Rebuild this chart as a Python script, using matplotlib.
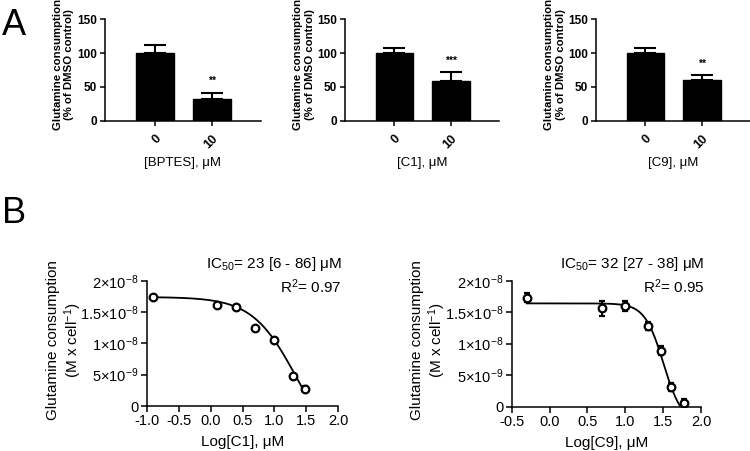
import numpy as np
import matplotlib
matplotlib.use("Agg")
import matplotlib.pyplot as plt
from matplotlib.ticker import FixedLocator, FixedFormatter

plt.rcParams['font.family'] = ['Liberation Sans', 'DejaVu Sans']
plt.rcParams['mathtext.fontset'] = 'custom'
plt.rcParams['mathtext.rm'] = 'Liberation Sans'
plt.rcParams['mathtext.it'] = 'Liberation Sans:italic'
plt.rcParams['mathtext.bf'] = 'Liberation Sans:bold'
plt.rcParams['axes.unicode_minus'] = False

# ---------------- data: panel A ----------------
bar_categories = ['0', '10']
bptes_means = [100, 32]
bptes_err = [12, 9.5]
c1_means = [100, 58]
c1_err = [7, 14]
c9_means = [100, 60]
c9_err = [7, 7]
bptes_stars = ['', '**']
c1_stars = ['', '***']
c9_stars = ['', '**']
bar_xlabels = ['[BPTES], μM', '[C1], μM', '[C9], μM']

# ---------------- data: panel B ----------------
c1_logdose = [-0.903, 0.097, 0.398, 0.699, 1.0, 1.301, 1.477]
c1_cons = [1.745e-8, 1.612e-8, 1.575e-8, 1.24e-8, 1.049e-8, 4.84e-9, 2.75e-9]
c1_cons_err = [1e-10, 1e-10, 1e-10, 1e-10, 1e-10, 1e-10, 4e-10]
c1_fit = dict(top=1.74e-8, bottom=-8.8e-9, logic50=1.362, hill=1.236)

c9_logdose = [-0.301, 0.699, 1.0, 1.301, 1.477, 1.602, 1.778]
c9_cons = [1.73e-8, 1.562e-8, 1.60e-8, 1.286e-8, 8.9e-9, 3.17e-9, 6.3e-10]
c9_cons_err = [7.4e-10, 1.2e-9, 8e-10, 6.6e-10, 6.6e-10, 6.6e-10, 6e-10]
c9_fit = dict(top=1.64e-8, bottom=-2.7e-9, logic50=1.505, hill=3.5)

c1_texts = ['IC$_{50}$= 23 [6 - 86] μM', 'R$^{2}$= 0.97']
c9_texts = ['IC$_{50}$= 32 [27 - 38] μM', 'R$^{2}$= 0.95']

ytick_vals = [0, 5e-9, 1e-8, 1.5e-8, 2e-8]
ytick_labels = ['0', '5×10$^{-9}$', '1×10$^{-8}$', '1.5×10$^{-8}$', '2×10$^{-8}$']


def four_pl(x, top, bottom, logic50, hill):
    return bottom + (top - bottom) / (1 + 10 ** (hill * (x - logic50)))


W, H = 750, 451
fig = plt.figure(figsize=(W / 100, H / 100), dpi=100)


def fig_axes(left_px, top_px, right_px, bottom_px):
    return fig.add_axes([left_px / W, 1 - bottom_px / H,
                         (right_px - left_px) / W, (bottom_px - top_px) / H])


def bar_panel(ax, means, errs, stars, xlabel):
    x = np.arange(len(bar_categories))
    ax.bar(x, means, width=0.66, color='black', edgecolor='black', zorder=2)
    ax.errorbar(x, means, yerr=[np.zeros(len(errs)), errs], fmt='none',
                ecolor='black', elinewidth=1.5, capsize=8, capthick=1.5, zorder=1)
    for xi, m, e, s in zip(x, means, errs, stars):
        if s:
            ax.text(xi, m + e + 17, s, ha='center', va='center',
                    fontsize=7.5, fontweight='bold')
    ax.set_xlim(-0.87, 1.85)
    ax.set_ylim(0, 150)
    ax.set_yticks([0, 50, 100, 150])
    ax.set_xticks(x)
    ax.set_xticklabels(bar_categories, rotation=45, ha='right',
                       rotation_mode='anchor', fontsize=9, fontweight='bold')
    for lab in ax.get_yticklabels():
        lab.set_fontsize(8.5)
        lab.set_fontweight('bold')
    for sp in ['top', 'right']:
        ax.spines[sp].set_visible(False)
    for sp in ['left', 'bottom']:
        ax.spines[sp].set_linewidth(1.1)
    ax.tick_params(direction='out', length=3.5, width=1.1, pad=2)
    ax.tick_params(axis='x', pad=5)
    ax.text(-0.265, 0.55, 'Glutamine consumption\n(% of DMSO control)',
            transform=ax.transAxes, rotation=90, ha='center', va='center',
            fontsize=8.2, fontweight='bold', linespacing=1.2)
    ax.text(0.5, -0.42, xlabel, transform=ax.transAxes, ha='center',
            va='center', fontsize=9.5)


axA1 = fig_axes(105, 19.3, 261, 120.7)
axA2 = fig_axes(345, 19.3, 499, 120.7)
axA3 = fig_axes(596, 19.3, 750, 120.7)
bar_panel(axA1, bptes_means, bptes_err, bptes_stars, bar_xlabels[0])
bar_panel(axA2, c1_means, c1_err, c1_stars, bar_xlabels[1])
bar_panel(axA3, c9_means, c9_err, c9_stars, bar_xlabels[2])


def curve_panel(ax, logdose, cons, err, fit, texts, xmin, xlabel, label_x):
    ax.errorbar(logdose, cons, yerr=err, fmt='o', mfc='white', mec='black',
                mew=1.6, ms=5.5, ecolor='black', elinewidth=1.4, capsize=2.5,
                capthick=1.4, zorder=3)
    xs = np.linspace(min(logdose), max(logdose), 300)
    ax.plot(xs, four_pl(xs, **fit), color='black', lw=1.3, zorder=2)
    ax.set_xlim(xmin, 2.0)
    ax.set_ylim(0, 2e-8)
    xt = np.arange(xmin, 2.0001, 0.5)
    ax.xaxis.set_major_locator(FixedLocator(xt))
    ax.xaxis.set_major_formatter(FixedFormatter(['%.1f' % v for v in xt]))
    ax.yaxis.set_major_locator(FixedLocator(ytick_vals))
    ax.yaxis.set_major_formatter(FixedFormatter(ytick_labels))
    for sp in ['top', 'right']:
        ax.spines[sp].set_visible(False)
    for sp in ['left', 'bottom']:
        ax.spines[sp].set_linewidth(1.1)
    ax.tick_params(direction='out', length=4, width=1.1, labelsize=10.5, pad=2)
    ax.text(label_x, 0.527, 'Glutamine consumption\n(M x cell$^{-1}$)',
            transform=ax.transAxes, rotation=90, ha='center', va='center',
            fontsize=11, linespacing=1.2)
    ax.text(0.5, -0.285, xlabel, transform=ax.transAxes, ha='center',
            va='center', fontsize=11)
    ax.text(1.02, 1.13, texts[0], transform=ax.transAxes, ha='right',
            va='center', fontsize=11)
    ax.text(1.02, 0.955, texts[1], transform=ax.transAxes, ha='right',
            va='center', fontsize=11)


axB1 = fig_axes(147, 280.7, 338, 406)
axB2 = fig_axes(511.7, 280.7, 701, 406.7)
curve_panel(axB1, c1_logdose, c1_cons, c1_cons_err, c1_fit, c1_texts, -1.0,
            'Log[C1], μM', -0.43)
curve_panel(axB2, c9_logdose, c9_cons, c9_cons_err, c9_fit, c9_texts, -0.5,
            'Log[C9], μM', -0.437)

fig.text(2 / W, 1 - 35 / H, 'A', fontsize=26, ha='left', va='baseline')
fig.text(2 / W, 1 - 223 / H, 'B', fontsize=26, ha='left', va='baseline')

fig.savefig('out.png', dpi=100)
